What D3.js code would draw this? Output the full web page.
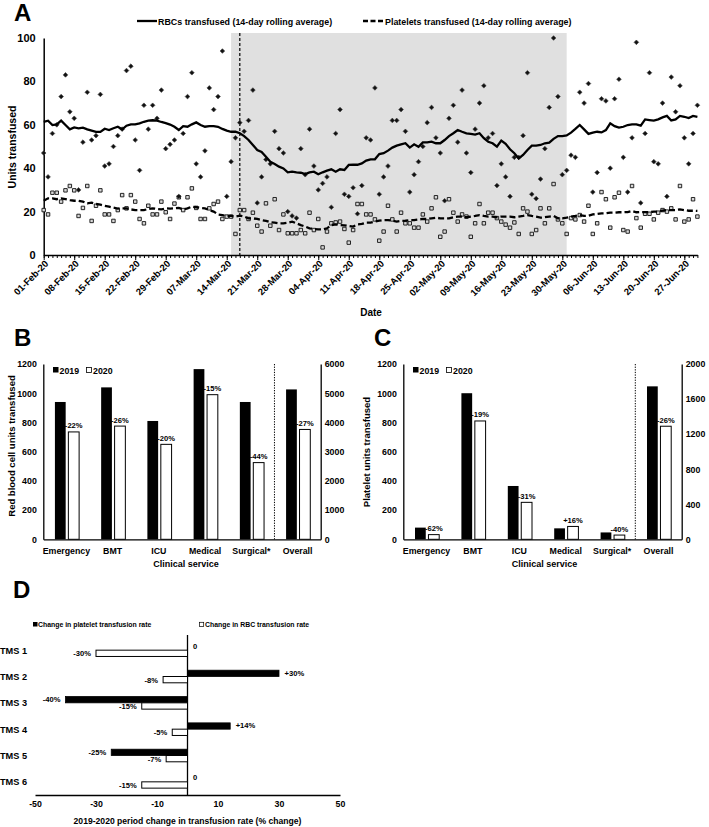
<!DOCTYPE html>
<html><head><meta charset="utf-8">
<script src="https://cdn.jsdelivr.net/npm/d3@7"></script>
<style>
body{margin:0;background:#fff;}
svg{display:block;font-family:"Liberation Sans",Arial,sans-serif;font-weight:bold;}
svg text{fill:#000;}
</style></head><body>
<svg id="chart" width="709" height="827"></svg>
<script>
// ---------------- Panel A data ----------------
const startDate = "2020-02-01";
const xTickLabels = ["01-Feb-20","08-Feb-20","15-Feb-20","22-Feb-20","29-Feb-20","07-Mar-20","14-Mar-20","21-Mar-20","28-Mar-20","04-Apr-20","11-Apr-20","18-Apr-20","25-Apr-20","02-May-20","09-May-20","16-May-20","23-May-20","30-May-20","06-Jun-20","13-Jun-20","20-Jun-20","27-Jun-20"];
const yTicksA = [0,20,40,60,80,100];
const shadedStart = "2020-03-15", shadedEnd = "2020-05-31", markerDate = "2020-03-17";
const rbcDaily = [47,36,56,60,73,83,66,63,30,52,
 75,53,55,74,41,42,50,55,58,85,
 87,53,39,69,58,69,63,76,49,51,
 53,27,56,73,84,42,36,48,77,67,
 73,94,27,43,54,61,57,62,76,24,
 36,44,42,57,49,47,20,18,17,49,
 37,58,41,30,33,36,22,56,67,28,
 27,31,19,32,54,53,77,28,36,41,
 62,62,67,57,29,37,43,50,61,68,
 54,47,25,63,69,52,76,47,38,58,
 70,78,54,56,32,42,36,27,45,45,
 55,84,28,26,35,49,68,100,73,37,
 39,46,45,75,70,79,29,38,72,71,
 40,72,81,45,29,54,98,24,56,84,
 43,42,70,27,82,66,78,54,42,56,
 69];
const plateletDaily = [20.7,18.7,28.7,28.7,24.6,29.8,31.8,29.8,18,21.7,
 31.8,15.7,22.7,29.8,18.7,18.7,15.7,20.7,27.6,21.5,
 27.6,24.6,16.6,14.6,22.7,18.7,18.7,24.6,19.7,16.6,
 23.7,26.6,20.7,26.6,30.7,21.7,16.6,16.6,21.5,23.5,
 24.6,16.6,17.7,17.7,9.7,20.7,20.7,16.6,19.5,13.5,
 10.8,23.8,13.5,25.7,11.5,18.7,10,10,10,11.5,
 10,19.5,11.5,16.6,3.5,10.8,14.6,15,15.4,12,
 5.7,11.5,23.5,23.5,18.7,18.7,16.4,6.6,10.8,22.7,
 16.4,10.8,19.5,14.6,14.6,12.6,12.6,18.7,15.4,21.5,
 26.6,8.4,10.8,25.7,19.5,15.4,18.7,17.7,8.4,14.6,
 23.5,14.6,19.5,19.5,17,15.4,14,12.6,15,9.7,
 21.5,20,9.7,11.5,21.5,14.6,21.5,32.7,16.4,14.6,
 9.7,17,16.4,18.4,15.4,22.7,9.7,14.6,29,25.7,
 12.6,26.6,28.7,11.5,10.8,31.8,17,12.6,19,19,
 16.4,19.5,20.7,20,21.5,16.4,31.8,15.4,16.4,25.7,
 17.7];
const rbcRolling = [61.4,61.9,59.9,60.2,61.9,59.9,57.9,58.8,58.4,58.7,
 57.9,57.3,56.7,56.7,58.2,57.6,58.4,59.1,57.9,59.6,
 60.2,60.2,60.7,61.4,61.9,62.1,61.9,61.3,60.8,60.1,
 59.1,57.6,59.4,59.1,60.2,61.1,59.9,59.1,59.4,59.4,
 59.1,58.1,57.3,56.8,56.8,56.1,54.8,53.0,50.7,48.4,
 47.5,45.3,43.0,41.9,40.7,39.9,38.1,38.4,38.1,37.9,
 37.3,38.1,38.4,37.2,38.1,38.9,39.5,38.4,39.5,39.2,
 41.5,41.6,41.6,42.2,43.5,44.1,44.1,46.5,46.9,48.1,
 49.5,50.4,51.0,51.5,49.5,51.0,49.9,51.9,51.9,52.2,
 51.5,51.5,53.0,54.8,56.1,57.6,56.8,56.1,55.8,55.5,
 56.1,53.8,52.2,51.5,49.9,52.7,51.2,48.7,46.9,44.5,
 46.1,48.4,50.4,50.4,50.7,51.5,51.8,53.5,54.8,54.8,
 55.1,56.4,58.1,59.9,57.9,55.8,56.4,56.8,56.5,57.6,
 60.7,59.4,58.7,59.1,59.9,60.2,60.2,59.6,62.5,62.2,
 61.9,62.5,63.4,64.1,62.0,62.5,64.1,63.7,63.1,64.1,
 63.7];
const plateletRolling = [25.0,26.1,26.1,25.7,26.1,25.7,25.3,25.0,25.0,24.6,
 23.8,24.1,23.5,23.2,22.7,22.3,21.8,21.4,21.5,21.5,
 21.0,20.7,20.7,20.7,21.2,21.5,21.2,21.0,21.5,21.4,
 21.5,21.7,21.0,21.5,22.3,22.0,21.7,21.5,20.7,20.0,
 18.7,18.4,18.0,18.0,17.7,18.1,17.7,16.9,16.9,16.6,
 16.1,15.7,15.1,14.9,14.6,14.6,14.9,15.4,14.6,13.8,
 13.1,12.3,12.0,11.8,11.8,12.3,13.8,14.1,13.8,13.7,
 13.4,13.1,14.1,14.3,14.9,14.9,15.4,15.8,16.1,16.1,
 15.8,15.4,15.7,15.8,16.1,16.1,16.4,16.6,16.6,16.9,
 17.2,16.9,16.9,16.9,17.4,17.7,17.7,17.4,17.7,18.0,
 18.4,18.0,17.7,17.7,17.4,17.7,17.7,17.7,17.4,17.7,
 18.0,18.4,18.0,17.7,17.2,17.4,17.7,18.0,16.9,16.9,
 17.2,17.7,18.0,18.4,18.0,18.1,18.7,18.9,19.2,19.2,
 19.5,19.5,19.7,19.7,19.8,20.3,19.7,19.8,19.8,19.7,
 20.0,20.0,20.4,20.7,20.7,20.7,21.0,20.7,20.4,20.4,
 20.3];

// ---------------- Panels B & C data ----------------
const services = ["Emergency","BMT","ICU","Medical","Surgical*","Overall"];
const years = ["2019","2020"];
const rbcUnits2019 = [940,1040,810,1165,940,5130];
const rbcUnits2020 = [735,775,650,990,525,3760];
const rbcChangeLabels = ["-22%","-26%","-20%","-15%","-44%","-27%"];
const pltUnits2019 = [80,1000,365,75,47,1745];
const pltUnits2020 = [32,810,253,88,29,1290];
const pltChangeLabels = ["-62%","-19%","-31%","+16%","-40%","-26%"];
const leftTicksBC = [0,200,400,600,800,1000,1200];
const rightTicksB = [0,1000,2000,3000,4000,5000,6000];
const rightTicksC = [0,400,800,1200,1600,2000];

// ---------------- Panel D data ----------------
const tmsSites = ["TMS 1","TMS 2","TMS 3","TMS 4","TMS 5","TMS 6"];
const plateletRateChange = [0,30,-40,14,-25,0];
const rbcRateChange = [-30,-8,-15,-5,-7,-15];
const plateletRateLabels = ["0","+30%","-40%","+14%","-25%","0"];
const rbcRateLabels = ["-30%","-8%","-15%","-5%","-7%","-15%"];
const xTicksD = [-50,-30,-10,10,30,50];

const svg = d3.select("#chart");
const plainNum = d => String(d);
const styleAxisText = (sel, size) => sel.selectAll("text").attr("font-size", size).attr("font-weight", "bold")
  .attr("font-family", "Liberation Sans, Arial, sans-serif").attr("fill", "#000");

// ================= PANEL A =================
const parseISO = d3.utcParse("%Y-%m-%d");
const parseTick = d3.utcParse("%d-%b-%y");
const t0 = parseISO(startDate);
const dates = rbcDaily.map((_, i) => d3.utcDay.offset(t0, i));
const xA = d3.scaleUtc().domain([t0, dates[dates.length - 1]]).range([43.7, 697.4]);
const yA = d3.scaleLinear().domain([0, 100]).range([255, 38]);
const gA = svg.append("g");

gA.append("rect")
  .attr("x", xA(parseISO(shadedStart))).attr("y", 33)
  .attr("width", xA(parseISO(shadedEnd)) - xA(parseISO(shadedStart)))
  .attr("height", 255 - 33).attr("fill", "#e0e0e0");

gA.append("line")
  .attr("x1", xA(parseISO(markerDate))).attr("x2", xA(parseISO(markerDate)))
  .attr("y1", 33).attr("y2", 255)
  .attr("stroke", "#000").attr("stroke-width", 1.2).attr("stroke-dasharray", "3,2");

const yAxA = gA.append("g").attr("transform", "translate(43.7,0)")
  .call(d3.axisLeft(yA).tickValues(yTicksA).tickFormat(plainNum).tickSize(0).tickSizeOuter(0).tickPadding(8));
yAxA.select(".domain").attr("stroke-width", 1.5);
styleAxisText(yAxA, 11);

const minorA = gA.append("g").attr("transform", "translate(0,255)")
  .call(d3.axisBottom(xA).tickValues(dates).tickSize(3).tickSizeOuter(0).tickFormat(""));
minorA.select(".domain").attr("stroke-width", 1.5);
const tickDates = xTickLabels.map(s => parseTick(s));
const majorA = gA.append("g").attr("transform", "translate(0,255)")
  .call(d3.axisBottom(xA).tickValues(tickDates).tickSize(5).tickSizeOuter(0).tickFormat(""));
majorA.select(".domain").remove();
gA.selectAll(".xlabA").data(xTickLabels).join("text")
  .attr("class", "xlabA")
  .attr("transform", (d) => `translate(${xA(parseTick(d)) + 3},${262}) rotate(-45)`)
  .attr("text-anchor", "end").attr("dy", "0.35em")
  .attr("font-size", 9.5).text(d => d);

gA.append("text").attr("x", 371).attr("y", 316).attr("text-anchor", "middle")
  .attr("font-size", 10).text("Date");
gA.append("text").attr("transform", "translate(16,147) rotate(-90)").attr("text-anchor", "middle")
  .attr("font-size", 10.5).text("Units transfused");

// scatter
gA.append("g").selectAll("path").data(plateletDaily).join("path")
  .attr("d", d3.symbol(d3.symbolSquare, 12)())
  .attr("transform", (d, i) => `translate(${xA(dates[i])},${yA(d)})`)
  .attr("fill", "#d8d8d8").attr("stroke", "#111").attr("stroke-width", 0.9);
gA.append("g").selectAll("path").data(rbcDaily).join("path")
  .attr("d", d3.symbol(d3.symbolSquare, 11)())
  .attr("transform", (d, i) => `translate(${xA(dates[i])},${yA(d)}) rotate(45)`)
  .attr("fill", "#111").attr("stroke", "#444").attr("stroke-width", 0.6);

// rolling lines
const lineA = d3.line().x((d, i) => xA(dates[i])).y(d => yA(d));
gA.append("path").datum(rbcRolling).attr("d", lineA)
  .attr("fill", "none").attr("stroke", "#000").attr("stroke-width", 2.3);
gA.append("path").datum(plateletRolling).attr("d", lineA)
  .attr("fill", "none").attr("stroke", "#000").attr("stroke-width", 2.3).attr("stroke-dasharray", "6,3");

// legend
gA.append("line").attr("x1", 137).attr("x2", 157).attr("y1", 21).attr("y2", 21)
  .attr("stroke", "#000").attr("stroke-width", 2.3);
gA.append("text").attr("x", 158).attr("y", 24.5).attr("font-size", 8.9)
  .text("RBCs transfused (14-day rolling average)");
gA.append("line").attr("x1", 363).attr("x2", 384).attr("y1", 21).attr("y2", 21)
  .attr("stroke", "#000").attr("stroke-width", 2.3).attr("stroke-dasharray", "5,2.5");
gA.append("text").attr("x", 385).attr("y", 24.5).attr("font-size", 8.9)
  .text("Platelets transfused (14-day rolling average)");

// panel letters
svg.append("text").attr("x", 14).attr("y", 21).attr("font-size", 24).text("A");
svg.append("text").attr("x", 14).attr("y", 346).attr("font-size", 24).text("B");
svg.append("text").attr("x", 374).attr("y", 346).attr("font-size", 24).text("C");
svg.append("text").attr("x", 13).attr("y", 598).attr("font-size", 24).text("D");

// ================= PANELS B & C =================
function barPanel(cfg) {
  const g = svg.append("g");
  const top = 364, bottom = 539.3;
  const x = d3.scaleBand().domain(services).range([cfg.left, cfg.right]);
  const yL = d3.scaleLinear().domain([0, 1200]).range([bottom, top]);
  const yR = d3.scaleLinear().domain([0, cfg.rightMax]).range([bottom, top]);
  const sub = d3.scaleBand().domain(years).range([-11.5, 12.7]).paddingInner(0.2);
  const yFor = (i) => services[i] === "Overall" ? yR : yL;
  const cx = (i) => x(services[i]) + x.bandwidth() / 2;

  const la = g.append("g").attr("transform", `translate(${cfg.left},0)`)
    .call(d3.axisLeft(yL).tickValues(leftTicksBC).tickFormat(plainNum).tickSize(0).tickSizeOuter(0).tickPadding(6.5));
  const ra = g.append("g").attr("transform", `translate(${cfg.right},0)`)
    .call(d3.axisRight(yR).tickValues(cfg.rightTicks).tickFormat(plainNum).tickSize(0).tickSizeOuter(0).tickPadding(4));
  const ba = g.append("g").attr("transform", `translate(0,${bottom})`)
    .call(d3.axisBottom(x).tickSize(0).tickSizeOuter(0).tickPadding(7));
  [la, ra, ba].forEach(a => {
    a.select(".domain").attr("stroke-width", 1.3);
    styleAxisText(a, 8.8);
  });
  ba.selectAll("text").attr("dy", "0.9em");

  const sepX = x("Overall");
  g.append("line").attr("x1", sepX).attr("x2", sepX).attr("y1", top).attr("y2", bottom)
    .attr("stroke", "#000").attr("stroke-width", 1).attr("stroke-dasharray", "1.3,1.3");

  g.append("g").selectAll("rect").data(cfg.v19).join("rect")
    .attr("x", (d, i) => cx(i) + sub("2019")).attr("width", sub.bandwidth())
    .attr("y", (d, i) => yFor(i)(d)).attr("height", (d, i) => bottom - yFor(i)(d))
    .attr("fill", "#000");
  g.append("g").selectAll("rect").data(cfg.v20).join("rect")
    .attr("x", (d, i) => cx(i) + sub("2020")).attr("width", sub.bandwidth())
    .attr("y", (d, i) => yFor(i)(d)).attr("height", (d, i) => bottom - yFor(i)(d))
    .attr("fill", "#fff").attr("stroke", "#000").attr("stroke-width", 1);
  g.append("g").selectAll("text").data(cfg.v20).join("text")
    .attr("x", (d, i) => cx(i) + sub("2020") + sub.bandwidth() / 2)
    .attr("y", (d, i) => yFor(i)(d) - 3.5)
    .attr("text-anchor", "middle").attr("font-size", 7.6)
    .text((d, i) => cfg.labels[i]);

  g.append("rect").attr("x", cfg.legX).attr("y", 367).attr("width", 5.5).attr("height", 5.5).attr("fill", "#000");
  g.append("text").attr("x", cfg.legX + 6.5).attr("y", 373.5).attr("font-size", 8.8).text(years[0]);
  g.append("rect").attr("x", cfg.legX + 33.5).attr("y", 367.5).attr("width", 5).attr("height", 5)
    .attr("fill", "#fff").attr("stroke", "#000").attr("stroke-width", 0.8);
  g.append("text").attr("x", cfg.legX + 40).attr("y", 373.5).attr("font-size", 8.8).text(years[1]);

  g.append("text").attr("x", (cfg.left + cfg.right) / 2 + cfg.xtOff).attr("y", 567)
    .attr("text-anchor", "middle").attr("font-size", 9).text("Clinical service");
  g.append("text").attr("transform", `translate(${cfg.ylabX},${cfg.ylabY}) rotate(-90)`)
    .attr("text-anchor", "middle").attr("font-size", cfg.ylabSize).text(cfg.ylab);
}

barPanel({left: 43.3, right: 320.7, rightMax: 6000, rightTicks: rightTicksB,
  v19: rbcUnits2019, v20: rbcUnits2020, labels: rbcChangeLabels, legX: 53,
  xtOff: 4, ylab: "Red blood cell units transfused", ylabX: 15, ylabY: 446, ylabSize: 9.5});
barPanel({left: 403.3, right: 681.7, rightMax: 2000, rightTicks: rightTicksC,
  v19: pltUnits2019, v20: pltUnits2020, labels: pltChangeLabels, legX: 413,
  xtOff: 2, ylab: "Platelet units transfused", ylabX: 370, ylabY: 452, ylabSize: 9.5});

// ================= PANEL D =================
const gD = svg.append("g");
const xD = d3.scaleLinear().domain([-50, 50]).range([35, 340]);
const yD = d3.scaleBand().domain(tmsSites).range([637, 795]);
const cD = (i) => yD(tmsSites[i]) + yD.bandwidth() / 2;
const barH = 6.3;

const axD = gD.append("g").attr("transform", "translate(0,795)")
  .call(d3.axisBottom(xD).tickValues(xTicksD).tickFormat(plainNum).tickSize(0).tickSizeOuter(0).tickPadding(6));
axD.select(".domain").attr("stroke-width", 1.3);
styleAxisText(axD, 8.8);

gD.append("line").attr("x1", xD(0)).attr("x2", xD(0)).attr("y1", 635).attr("y2", 795)
  .attr("stroke", "#000").attr("stroke-width", 1.3);

gD.append("g").selectAll("rect").data(plateletRateChange).join("rect")
  .attr("x", d => Math.min(xD(0), xD(d))).attr("width", d => Math.abs(xD(d) - xD(0)))
  .attr("y", (d, i) => cD(i) - barH).attr("height", barH)
  .attr("fill", "#000").attr("stroke", "#000").attr("stroke-width", 0.8)
  .attr("display", d => d === 0 ? "none" : null);
gD.append("g").selectAll("rect").data(rbcRateChange).join("rect")
  .attr("x", d => Math.min(xD(0), xD(d))).attr("width", d => Math.abs(xD(d) - xD(0)))
  .attr("y", (d, i) => cD(i)).attr("height", barH)
  .attr("fill", "#fff").attr("stroke", "#000").attr("stroke-width", 1);

gD.append("g").selectAll("text").data(plateletRateChange).join("text")
  .attr("x", d => d < 0 ? xD(d) - 5 : xD(d) + 5.5)
  .attr("y", (d, i) => cD(i) - (d === 0 ? 1.5 : 1))
  .attr("text-anchor", d => d < 0 ? "end" : "start")
  .attr("font-size", 7.6).attr("fill", "#000").text((d, i) => plateletRateLabels[i]);
gD.append("g").selectAll("text").data(rbcRateChange).join("text")
  .attr("x", d => xD(d) - 5).attr("y", (d, i) => cD(i) + 6)
  .attr("text-anchor", "end").attr("font-size", 7.6).attr("fill", "#000").text((d, i) => rbcRateLabels[i]);

gD.append("g").selectAll("text").data(tmsSites).join("text")
  .attr("x", 0).attr("y", (d, i) => cD(i) + 3.5).attr("font-size", 9.2).text(d => d);

gD.append("rect").attr("x", 33).attr("y", 622).attr("width", 4.5).attr("height", 4.5).attr("fill", "#000");
gD.append("text").attr("x", 38).attr("y", 627).attr("font-size", 6.9).text("Change in platelet transfusion rate");
gD.append("rect").attr("x", 199.5).attr("y", 622.3).attr("width", 4.2).attr("height", 4.2)
  .attr("fill", "#fff").attr("stroke", "#000").attr("stroke-width", 0.7);
gD.append("text").attr("x", 205).attr("y", 627).attr("font-size", 6.9).text("Change in RBC transfusion rate");

gD.append("text").attr("x", 187.5).attr("y", 824).attr("text-anchor", "middle")
  .attr("font-size", 8.6).text("2019-2020 period change in transfusion rate (% change)");
</script>
</body></html>
